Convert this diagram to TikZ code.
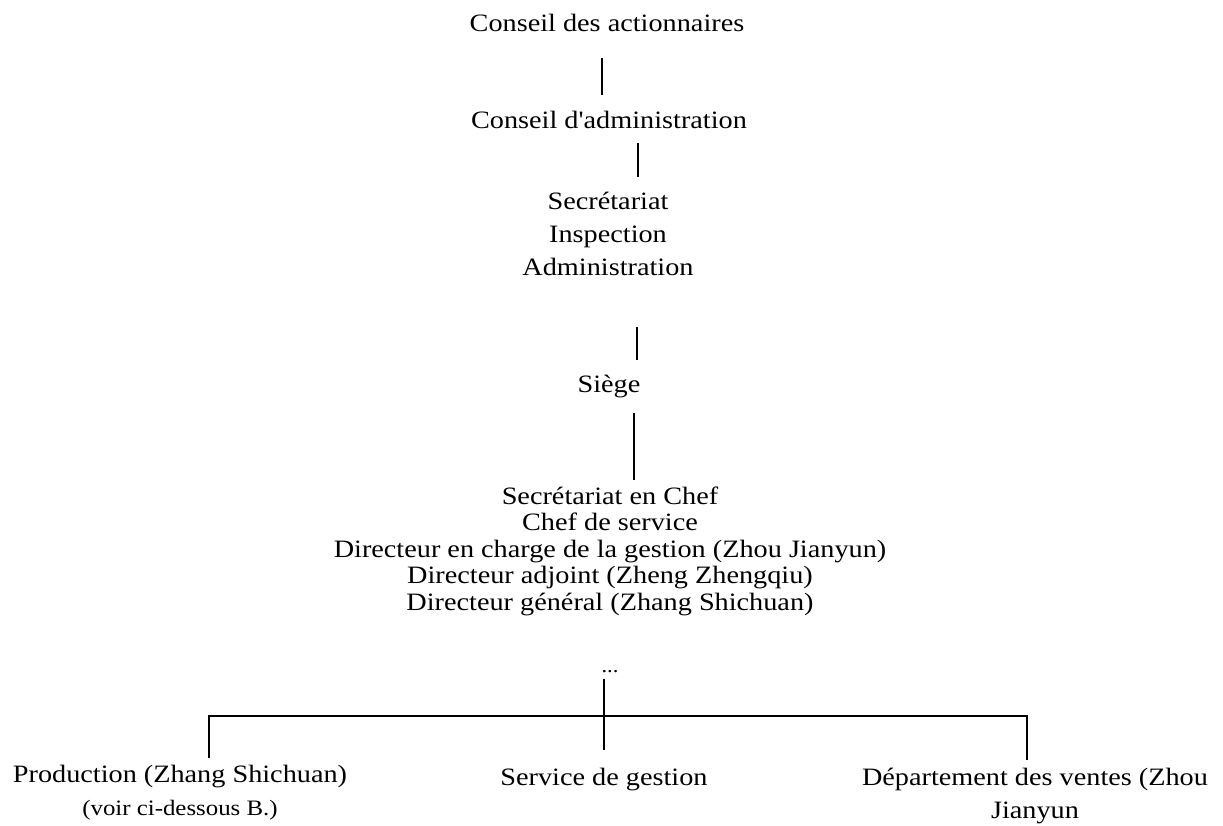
\documentclass[tikz,border=0pt]{standalone}
\usepackage{fontspec}
\setmainfont[FakeStretch=1.13,Ligatures=TeXOff]{Liberation Serif}
\begin{document}
\begin{tikzpicture}[x=1pt,y=-1pt,
  every node/.style={inner sep=0pt,outer sep=0pt},
  lbl/.style={font=\fontsize{25}{33}\selectfont,align=center,anchor=base},
  tight/.style={font=\fontsize{25}{26.4}\selectfont,align=center,anchor=base},
  link/.style={line width=1.6pt,line cap=butt}]
\useasboundingbox (0,0) rectangle (1223,825);
% text nodes (anchor = baseline of the last line)
\node[lbl] (actionnaires) at (607,31) {Conseil des actionnaires};
\node[lbl] (admin) at (609,128) {Conseil d'administration};
\node[lbl] (secr) at (608,275) {Secrétariat\\Inspection\\Administration};
\node[lbl] (siege) at (609,392) {Siège};
\node[tight] (chef) at (610,610) {Secrétariat en Chef\\Chef de service\\Directeur en charge de la gestion (Zhou Jianyun)\\Directeur adjoint (Zheng Zhengqiu)\\Directeur général (Zhang Shichuan)};
\node[lbl,font=\fontsize{20}{33}\selectfont] (dots) at (610,672) {...};
\node[lbl] (prod) at (180,815) {Production (Zhang Shichuan)\\{\fontsize{22}{33}\selectfont (voir ci-dessous B.)}};
\node[lbl] (service) at (604,785) {Service de gestion};
\node[lbl] (ventes) at (1035,818) {Département des ventes (Zhou\\Jianyun};
% connector ends
\coordinate (l1a) at (602,58);  \coordinate (l1b) at (602,95);
\coordinate (l2a) at (638,143); \coordinate (l2b) at (638,177);
\coordinate (l3a) at (637,327); \coordinate (l3b) at (637,360);
\coordinate (l4a) at (634,413); \coordinate (l4b) at (634,480);
\coordinate (stemA) at (604,679); \coordinate (stemB) at (604,750);
\coordinate (barL) at (209,716); \coordinate (barR) at (1027,716);
\coordinate (prodTop) at (209,758); \coordinate (ventesTop) at (1027,760);
% connectors
\draw[link] (l1a) -- (l1b);
\draw[link] (l2a) -- (l2b);
\draw[link] (l3a) -- (l3b);
\draw[link] (l4a) -- (l4b);
\draw[link] (stemA) -- (stemB);
\draw[link] (prodTop) -- (barL) -- (barR) -- (ventesTop);
\end{tikzpicture}
\end{document}
